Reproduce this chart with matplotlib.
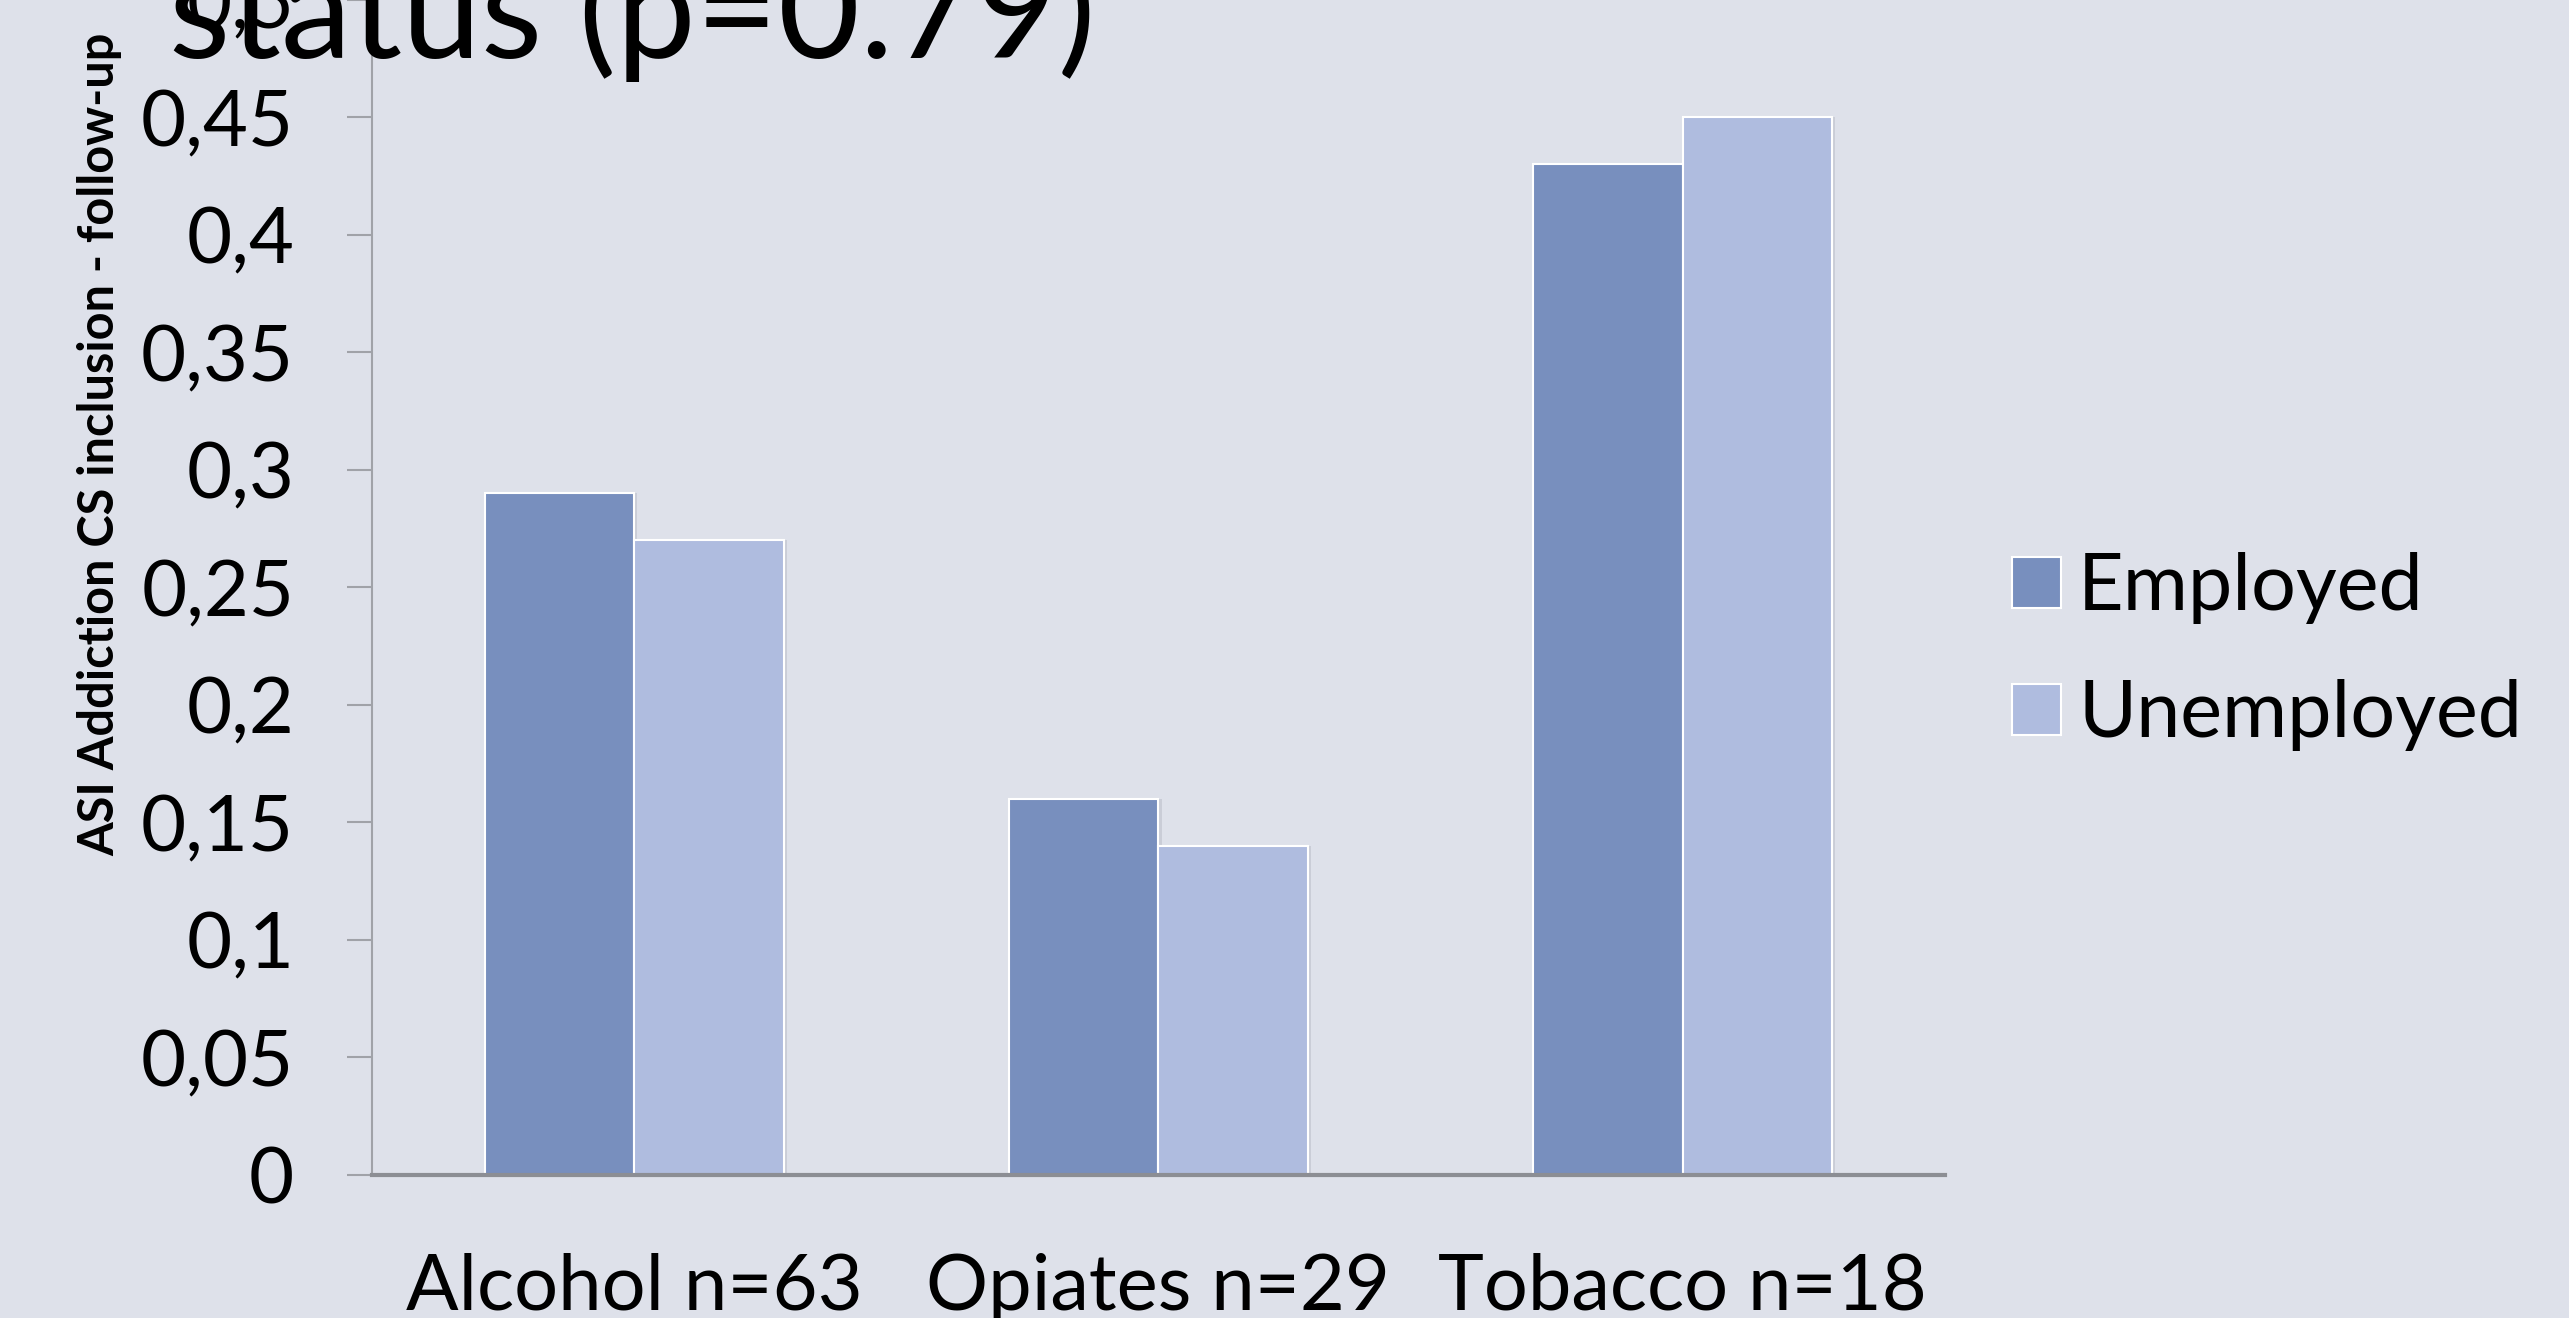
import numpy as np
import matplotlib
matplotlib.use('Agg')
import matplotlib.pyplot as plt
from matplotlib.patches import Patch

plt.rcParams['font.family'] = ['Lato', 'DejaVu Sans']

# data
categories = ['Alcohol n=63', 'Opiates n=29', 'Tobacco n=18']
employed = [0.29, 0.16, 0.43]
unemployed = [0.27, 0.14, 0.45]
series_names = ['Employed', 'Unemployed']
yticks = [0, 0.05, 0.1, 0.15, 0.2, 0.25, 0.3, 0.35, 0.4, 0.45, 0.5]
ytick_labels = ['0', '0,05', '0,1', '0,15', '0,2', '0,25', '0,3', '0,35', '0,4', '0,45', '0,5']

bg = '#DEE1EA'
c_emp = '#788FBE'
c_unemp = '#AFBCDF'

fig = plt.figure(figsize=(25.69, 13.18), dpi=100)
fig.patch.set_facecolor(bg)
ax = fig.add_axes([0.1448, 0.1085, 0.757 - 0.1448, 1.0 - 0.1085])
ax.set_facecolor(bg)

x = np.arange(len(categories))
w = 0.285
# faint shadow behind bars
for vals, off in [(employed, -w / 2), (unemployed, w / 2)]:
    ax.bar(x + off + 0.006, vals, w, color='#B8BBC6', alpha=0.5, zorder=1)
ax.bar(x - w / 2, employed, w, color=c_emp, edgecolor='white', linewidth=1.5, zorder=2)
ax.bar(x + w / 2, unemployed, w, color=c_unemp, edgecolor='white', linewidth=1.5, zorder=2)

ax.set_xlim(-0.5, 2.5)
ax.set_ylim(0, 0.5)
ax.set_yticks(yticks)
ax.set_yticklabels(ytick_labels)
ax.set_xticks(x)
ax.set_xticklabels(categories)

for s in ['top', 'right']:
    ax.spines[s].set_visible(False)
ax.spines['left'].set_color('#A0A2A8')
ax.spines['left'].set_linewidth(1.5)
ax.spines['bottom'].set_color('#8C8E94')
ax.spines['bottom'].set_linewidth(3)
ax.spines['bottom'].set_zorder(3)

ax.tick_params(axis='y', direction='out', length=18, width=1.5, color='#A0A2A8',
               labelsize=56, pad=38)
ax.tick_params(axis='x', length=0, labelsize=56, pad=56)

ax.set_ylabel('ASI Addiction CS inclusion - follow-up', fontsize=35, fontweight='bold')
ax.yaxis.set_label_coords(-0.159, 0.622)

handles = [Patch(facecolor=c_emp, edgecolor='white', linewidth=1.5),
           Patch(facecolor=c_unemp, edgecolor='white', linewidth=1.5)]
fig.legend(handles, series_names, loc='center left', bbox_to_anchor=(0.783, 0.5055),
           frameon=False, fontsize=57, handlelength=0.62, handleheight=0.62,
           handletextpad=0.22, labelspacing=0.7, borderpad=0, borderaxespad=0)

# title, only its last line shows in the reference
fig.text(0.0657, 1 - 58 / 1318, 'status (p=0.79)', fontsize=102, va='baseline', ha='left')

fig.savefig('out.png', dpi=100, facecolor=bg)
